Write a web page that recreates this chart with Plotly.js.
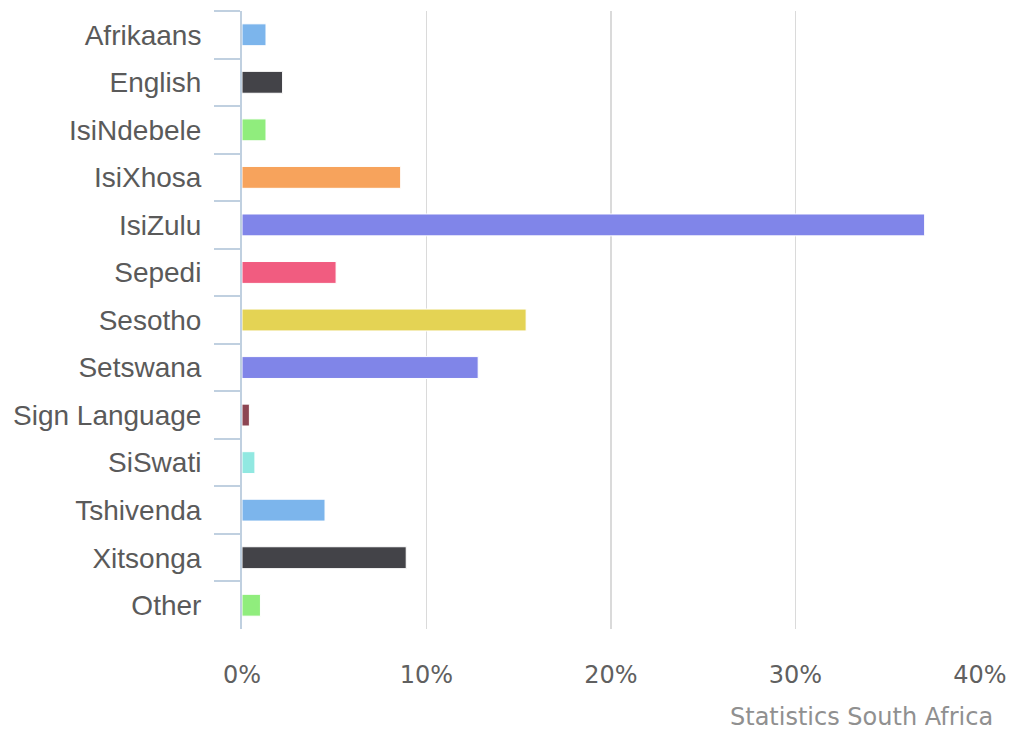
<!DOCTYPE html>
<html>
<head>
<meta charset="utf-8">
<script src="https://cdn.plot.ly/plotly-3.0.1.min.js"></script>
<style>html,body{margin:0;padding:0;background:#fff;}#chart{width:1018px;height:734px;}</style>
</head>
<body>
<div id="chart"></div>
<script>
const languages = ["Afrikaans","English","IsiNdebele","IsiXhosa","IsiZulu","Sepedi","Sesotho","Setswana","Sign Language","SiSwati","Tshivenda","Xitsonga","Other"];
const shares = [1.3, 2.2, 1.3, 8.6, 37.0, 5.1, 15.4, 12.8, 0.4, 0.7, 4.5, 8.9, 1.0];
const barColors = ["#7cb5ec","#434348","#90ed7d","#f7a35c","#8085e9","#f15c80","#e4d354","#8085e8","#8d4653","#91e8e1","#7cb5ec","#434348","#90ed7d"];
const xTicks = [0, 10, 20, 30, 40];
const source = "Statistics South Africa";

const trace = {
  type: "bar",
  orientation: "h",
  x: shares,
  y: languages,
  width: 0.46,
  marker: {color: barColors, line: {color: "#ffffff", width: 1}},
  hoverinfo: "skip"
};

const L = 242, R = 38, T = 11, B = 105, W = 1018, H = 734;

const layout = {
  width: W,
  height: H,
  margin: {l: L, r: R, t: T, b: B, pad: 0},
  paper_bgcolor: "#ffffff",
  plot_bgcolor: "#ffffff",
  showlegend: false,
  bargap: 0,
  xaxis: {
    range: [0, 40],
    tickvals: xTicks,
    ticktext: xTicks.map(v => v + "%"),
    showgrid: true,
    gridcolor: "#dadada",
    gridwidth: 1.5,
    zeroline: false,
    showline: false,
    ticks: "outside",
    ticklen: 24,
    tickcolor: "rgba(0,0,0,0)",
    tickfont: {family: "DejaVu Sans", size: 24, color: "#606060"},
    fixedrange: true
  },
  yaxis: {
    type: "category",
    autorange: "reversed",
    showline: true,
    linecolor: "#c0d0e0",
    linewidth: 2,
    showgrid: false,
    zeroline: false,
    ticks: "outside",
    tickson: "boundaries",
    ticklen: 26,
    tickwidth: 2,
    tickcolor: "#c0d0e0",
    ticklabelstandoff: 33,
    tickfont: {family: "Liberation Sans", size: 28, color: "#5a5a5a"},
    fixedrange: true
  },
  annotations: [{
    text: source,
    xref: "paper", yref: "paper",
    x: (995 - L) / (W - L - R),
    y: -(717 - (H - B)) / (H - T - B),
    xanchor: "right", yanchor: "middle",
    showarrow: false,
    font: {family: "DejaVu Sans", size: 24, color: "#909090"}
  }]
};

Plotly.newPlot("chart", [trace], layout, {displayModeBar: false, staticPlot: true});
</script>
</body>
</html>
